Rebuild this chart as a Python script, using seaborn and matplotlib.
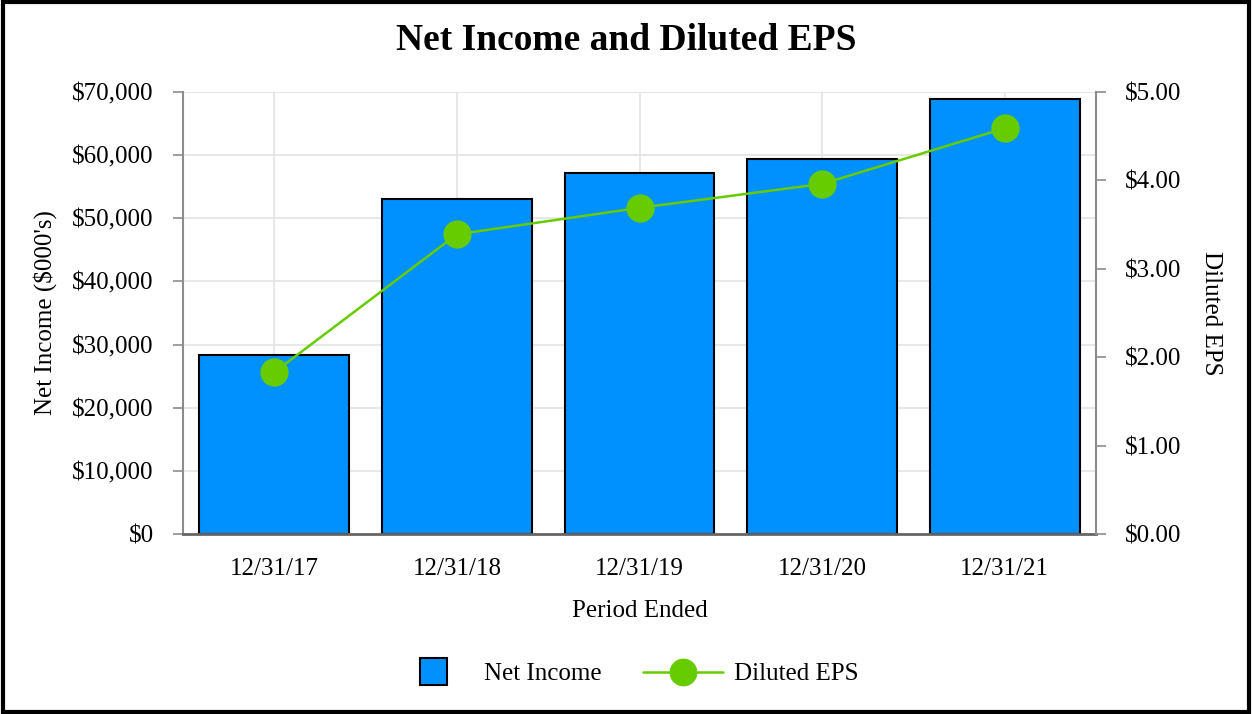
import numpy as np
import matplotlib.pyplot as plt
import seaborn as sns
from matplotlib.patches import Patch, Rectangle
from matplotlib.lines import Line2D
from matplotlib.legend_handler import HandlerPatch
from matplotlib.ticker import FuncFormatter

periods = ['12/31/17', '12/31/18', '12/31/19', '12/31/20', '12/31/21']
net_income = [28300, 53000, 57200, 59400, 68900]
diluted_eps = [1.83, 3.39, 3.69, 3.96, 4.59]

bar_color = '#0091FF'
line_color = '#66CC00'
axis_gray = '#8c8c8c'

sns.set_style('white')
plt.rcParams['font.family'] = ['Liberation Serif', 'DejaVu Serif']
plt.rcParams['text.color'] = 'black'
plt.rcParams['axes.labelcolor'] = 'black'
plt.rcParams['xtick.color'] = 'black'
plt.rcParams['ytick.color'] = 'black'

fig = plt.figure(figsize=(12.52, 7.14), dpi=100)
ax = fig.add_axes([183 / 1252, 1 - 534 / 714, 913 / 1252, 442 / 714])

sns.barplot(x=periods, y=net_income, color=bar_color, edgecolor='black',
            linewidth=1.5, width=0.82, saturation=1, ax=ax, zorder=2)
ax.set_ylim(0, 70000)
ax.set_yticks(np.arange(0, 70001, 10000))
ax.yaxis.set_major_formatter(FuncFormatter(lambda v, p: '${:,.0f}'.format(v)))
ax.grid(True, color='#e3e3e3', linewidth=1.2, zorder=0)
ax.set_axisbelow(True)
ax.set_xlabel('Period Ended', fontsize=18, labelpad=15)
ax.set_ylabel("Net Income ($000's)", fontsize=18, labelpad=11)

ax2 = ax.twinx()
sns.pointplot(x=periods, y=diluted_eps, color=line_color, markers='o',
              markersize=19, linewidth=1.8, ax=ax2)
ax2.set_ylim(0, 5)
ax2.set_yticks(np.arange(0, 5.01, 1))
ax2.yaxis.set_major_formatter(FuncFormatter(lambda v, p: '${:.2f}'.format(v)))
ax2.set_ylabel('Diluted EPS', fontsize=18, rotation=270, va='bottom', labelpad=13)
ax2.grid(False)
ax.set_xlim(-0.5, 4.5)
ax2.set_xlim(-0.5, 4.5)

for a in (ax, ax2):
    for s in a.spines.values():
        s.set_visible(False)
    a.tick_params(axis='both', labelsize=18, direction='out', length=7,
                  width=1.2, color=axis_gray, labelcolor='black', pad=14)
ax.spines['left'].set_visible(True)
ax.spines['left'].set_color(axis_gray)
ax.spines['left'].set_linewidth(1.5)
ax.spines['bottom'].set_visible(True)
ax.spines['bottom'].set_color('#666666')
ax.spines['bottom'].set_linewidth(2)
ax2.spines['right'].set_visible(True)
ax2.spines['right'].set_color(axis_gray)
ax2.spines['right'].set_linewidth(1.5)
ax.tick_params(axis='x', length=7, pad=10)

fig.suptitle('Net Income and Diluted EPS', fontsize=27, fontweight='bold',
             y=1 - 40 / 714, va='center')


def square(legend, orig_handle, xdescent, ydescent, width, height, fontsize):
    s = 19
    return Rectangle((width / 2 - s / 2 - xdescent, height / 2 - s / 2 - ydescent), s, s)


handles = [Patch(facecolor=bar_color, edgecolor='black', linewidth=1.5),
           Line2D([0], [0], color=line_color, linewidth=1.8, marker='o',
                  markersize=19)]
fig.legend(handles, ['Net Income', 'Diluted EPS'], loc='center',
           bbox_to_anchor=(0.5, 1 - 674 / 714), ncol=2, frameon=False,
           fontsize=18, handlelength=3.2, columnspacing=1.64,
           handletextpad=0.44,
           handler_map={Patch: HandlerPatch(patch_func=square)})

fig.patches.append(Rectangle((0.002, 0.003), 0.996, 0.994, transform=fig.transFigure,
                             fill=False, edgecolor='black', linewidth=3))
fig.savefig('out.png', dpi=100)
